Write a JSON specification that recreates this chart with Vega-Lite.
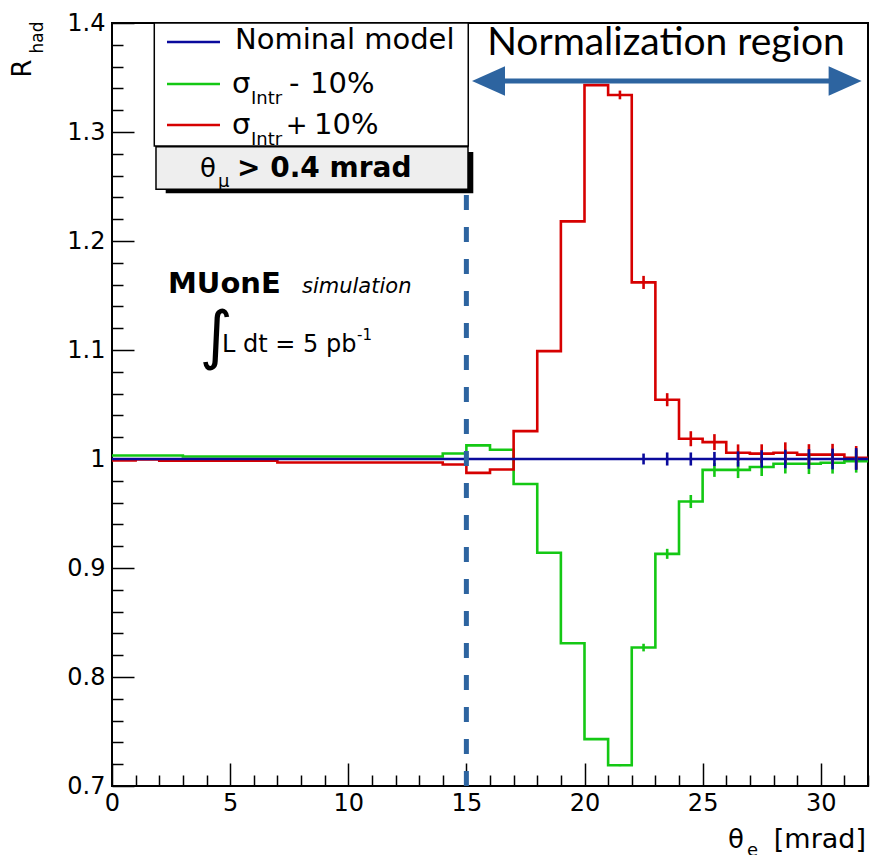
{
"$schema": "https://vega.github.io/schema/vega-lite/v6.json",
"width": 756, "height": 763,
"autosize": {"type": "none"},
"padding": {"left": 112, "top": 23, "right": 3, "bottom": 69},
"background": "white",
"datasets": {
"one": [{}],
"hist": [
{"s":"minus","x0":0,"x1":1,"mid":0.5,"r":1.0032,"e":0},
{"s":"minus","x0":1,"x1":2,"mid":1.5,"r":1.0032,"e":0},
{"s":"minus","x0":2,"x1":3,"mid":2.5,"r":1.0032,"e":0},
{"s":"minus","x0":3,"x1":4,"mid":3.5,"r":1.0023,"e":0},
{"s":"minus","x0":4,"x1":5,"mid":4.5,"r":1.0023,"e":0},
{"s":"minus","x0":5,"x1":6,"mid":5.5,"r":1.0023,"e":0},
{"s":"minus","x0":6,"x1":7,"mid":6.5,"r":1.0023,"e":0},
{"s":"minus","x0":7,"x1":8,"mid":7.5,"r":1.0023,"e":0},
{"s":"minus","x0":8,"x1":9,"mid":8.5,"r":1.0023,"e":0},
{"s":"minus","x0":9,"x1":10,"mid":9.5,"r":1.0023,"e":0},
{"s":"minus","x0":10,"x1":11,"mid":10.5,"r":1.0023,"e":0},
{"s":"minus","x0":11,"x1":12,"mid":11.5,"r":1.0023,"e":0},
{"s":"minus","x0":12,"x1":13,"mid":12.5,"r":1.0023,"e":0},
{"s":"minus","x0":13,"x1":14,"mid":13.5,"r":1.0023,"e":0},
{"s":"minus","x0":14,"x1":15,"mid":14.5,"r":1.005,"e":0},
{"s":"minus","x0":15,"x1":16,"mid":15.5,"r":1.0125,"e":0},
{"s":"minus","x0":16,"x1":17,"mid":16.5,"r":1.0085,"e":0},
{"s":"minus","x0":17,"x1":18,"mid":17.5,"r":0.977,"e":0},
{"s":"minus","x0":18,"x1":19,"mid":18.5,"r":0.914,"e":0},
{"s":"minus","x0":19,"x1":20,"mid":19.5,"r":0.831,"e":0},
{"s":"minus","x0":20,"x1":21,"mid":20.5,"r":0.743,"e":0},
{"s":"minus","x0":21,"x1":22,"mid":21.5,"r":0.719,"e":0.0008},
{"s":"minus","x0":22,"x1":23,"mid":22.5,"r":0.827,"e":0.0035},
{"s":"minus","x0":23,"x1":24,"mid":23.5,"r":0.913,"e":0.0046},
{"s":"minus","x0":24,"x1":25,"mid":24.5,"r":0.961,"e":0.006},
{"s":"minus","x0":25,"x1":26,"mid":25.5,"r":0.990,"e":0.0064},
{"s":"minus","x0":26,"x1":27,"mid":26.5,"r":0.990,"e":0.0075},
{"s":"minus","x0":27,"x1":28,"mid":27.5,"r":0.9926,"e":0.0082},
{"s":"minus","x0":28,"x1":29,"mid":28.5,"r":0.9957,"e":0.009},
{"s":"minus","x0":29,"x1":30,"mid":29.5,"r":0.9957,"e":0.0095},
{"s":"minus","x0":30,"x1":31,"mid":30.5,"r":0.9966,"e":0.01},
{"s":"minus","x0":31,"x1":32,"mid":31.5,"r":0.998,"e":0.0105},
{"s":"plus","x0":0,"x1":1,"mid":0.5,"r":0.9986,"e":0},
{"s":"plus","x0":1,"x1":2,"mid":1.5,"r":0.9995,"e":0},
{"s":"plus","x0":2,"x1":3,"mid":2.5,"r":0.9984,"e":0},
{"s":"plus","x0":3,"x1":4,"mid":3.5,"r":0.9984,"e":0},
{"s":"plus","x0":4,"x1":5,"mid":4.5,"r":0.9984,"e":0},
{"s":"plus","x0":5,"x1":6,"mid":5.5,"r":0.9984,"e":0},
{"s":"plus","x0":6,"x1":7,"mid":6.5,"r":0.9984,"e":0},
{"s":"plus","x0":7,"x1":8,"mid":7.5,"r":0.9968,"e":0},
{"s":"plus","x0":8,"x1":9,"mid":8.5,"r":0.9968,"e":0},
{"s":"plus","x0":9,"x1":10,"mid":9.5,"r":0.9968,"e":0},
{"s":"plus","x0":10,"x1":11,"mid":10.5,"r":0.9968,"e":0},
{"s":"plus","x0":11,"x1":12,"mid":11.5,"r":0.9968,"e":0},
{"s":"plus","x0":12,"x1":13,"mid":12.5,"r":0.9968,"e":0},
{"s":"plus","x0":13,"x1":14,"mid":13.5,"r":0.9968,"e":0},
{"s":"plus","x0":14,"x1":15,"mid":14.5,"r":0.995,"e":0},
{"s":"plus","x0":15,"x1":16,"mid":15.5,"r":0.9873,"e":0},
{"s":"plus","x0":16,"x1":17,"mid":16.5,"r":0.9904,"e":0},
{"s":"plus","x0":17,"x1":18,"mid":17.5,"r":1.0256,"e":0},
{"s":"plus","x0":18,"x1":19,"mid":18.5,"r":1.099,"e":0},
{"s":"plus","x0":19,"x1":20,"mid":19.5,"r":1.218,"e":0},
{"s":"plus","x0":20,"x1":21,"mid":20.5,"r":1.343,"e":0.0006},
{"s":"plus","x0":21,"x1":22,"mid":21.5,"r":1.334,"e":0.004},
{"s":"plus","x0":22,"x1":23,"mid":22.5,"r":1.162,"e":0.006},
{"s":"plus","x0":23,"x1":24,"mid":23.5,"r":1.0544,"e":0.006},
{"s":"plus","x0":24,"x1":25,"mid":24.5,"r":1.0186,"e":0.0069},
{"s":"plus","x0":25,"x1":26,"mid":25.5,"r":1.0155,"e":0.0073},
{"s":"plus","x0":26,"x1":27,"mid":26.5,"r":1.0058,"e":0.0076},
{"s":"plus","x0":27,"x1":28,"mid":27.5,"r":1.0049,"e":0.0086},
{"s":"plus","x0":28,"x1":29,"mid":28.5,"r":1.0058,"e":0.0095},
{"s":"plus","x0":29,"x1":30,"mid":29.5,"r":1.004,"e":0.0096},
{"s":"plus","x0":30,"x1":31,"mid":30.5,"r":1.004,"e":0.0099},
{"s":"plus","x0":31,"x1":32,"mid":31.5,"r":1.0012,"e":0.0107},
{"s":"nom","x0":0,"x1":1,"mid":0.5,"r":1,"e":0},
{"s":"nom","x0":1,"x1":2,"mid":1.5,"r":1,"e":0},
{"s":"nom","x0":2,"x1":3,"mid":2.5,"r":1,"e":0},
{"s":"nom","x0":3,"x1":4,"mid":3.5,"r":1,"e":0},
{"s":"nom","x0":4,"x1":5,"mid":4.5,"r":1,"e":0},
{"s":"nom","x0":5,"x1":6,"mid":5.5,"r":1,"e":0},
{"s":"nom","x0":6,"x1":7,"mid":6.5,"r":1,"e":0},
{"s":"nom","x0":7,"x1":8,"mid":7.5,"r":1,"e":0},
{"s":"nom","x0":8,"x1":9,"mid":8.5,"r":1,"e":0},
{"s":"nom","x0":9,"x1":10,"mid":9.5,"r":1,"e":0},
{"s":"nom","x0":10,"x1":11,"mid":10.5,"r":1,"e":0},
{"s":"nom","x0":11,"x1":12,"mid":11.5,"r":1,"e":0},
{"s":"nom","x0":12,"x1":13,"mid":12.5,"r":1,"e":0},
{"s":"nom","x0":13,"x1":14,"mid":13.5,"r":1,"e":0},
{"s":"nom","x0":14,"x1":15,"mid":14.5,"r":1,"e":0},
{"s":"nom","x0":15,"x1":16,"mid":15.5,"r":1,"e":0},
{"s":"nom","x0":16,"x1":17,"mid":16.5,"r":1,"e":0},
{"s":"nom","x0":17,"x1":18,"mid":17.5,"r":1,"e":0},
{"s":"nom","x0":18,"x1":19,"mid":18.5,"r":1,"e":0},
{"s":"nom","x0":19,"x1":20,"mid":19.5,"r":1,"e":0},
{"s":"nom","x0":20,"x1":21,"mid":20.5,"r":1,"e":0},
{"s":"nom","x0":21,"x1":22,"mid":21.5,"r":1,"e":0.0009},
{"s":"nom","x0":22,"x1":23,"mid":22.5,"r":1,"e":0.005},
{"s":"nom","x0":23,"x1":24,"mid":23.5,"r":1,"e":0.006},
{"s":"nom","x0":24,"x1":25,"mid":24.5,"r":1,"e":0.006},
{"s":"nom","x0":25,"x1":26,"mid":25.5,"r":1,"e":0.0065},
{"s":"nom","x0":26,"x1":27,"mid":26.5,"r":1,"e":0.007},
{"s":"nom","x0":27,"x1":28,"mid":27.5,"r":1,"e":0.008},
{"s":"nom","x0":28,"x1":29,"mid":28.5,"r":1,"e":0.0085},
{"s":"nom","x0":29,"x1":30,"mid":29.5,"r":1,"e":0.009},
{"s":"nom","x0":30,"x1":31,"mid":30.5,"r":1,"e":0.0095},
{"s":"nom","x0":31,"x1":32,"mid":31.5,"r":1,"e":0.01}
]
},
"layer": [
{"data": {"name": "hist"},
 "transform": [{"fold": ["x0", "x1"], "as": ["k", "xv"]}],
 "mark": {"type": "line", "strokeWidth": 2.6, "strokeCap": "butt", "strokeJoin": "miter"},
 "encoding": {
  "x": {"field": "xv", "type": "quantitative", "scale": {"domain": [0, 32], "nice": false, "zero": false},
        "axis": {"values": [0,1,2,3,4,5,6,7,8,9,10,11,12,13,14,15,16,17,18,19,20,21,22,23,24,25,26,27,28,29,30,31,32],
                 "tickCount": 200,
                 "tickSize": {"condition": {"test": "datum.value % 5 === 0", "value": -23}, "value": -11},
                 "labelExpr": "datum.value % 5 === 0 ? format(datum.value, 'd') : ''",
                 "labelPadding": 28, "labelOverlap": false, "labelFlush": false, "labelBound": false, "title": null}},
  "y": {"field": "r", "type": "quantitative", "scale": {"domain": [0.7, 1.4], "nice": false, "zero": false},
        "axis": {"values": [0.7,0.72,0.74,0.76,0.78,0.8,0.82,0.84,0.86,0.88,0.9,0.92,0.94,0.96,0.98,1,1.02,1.04,1.06,1.08,1.1,1.12,1.14,1.16,1.18,1.2,1.22,1.24,1.26,1.28,1.3,1.32,1.34,1.36,1.38,1.4],
                 "tickCount": 200,
                 "tickSize": {"condition": {"test": "abs(datum.value*10 - round(datum.value*10)) < 0.001", "value": -22}, "value": -11},
                 "labelExpr": "abs(datum.value*10 - round(datum.value*10)) < 0.001 ? format(datum.value, '~g') : ''",
                 "labelPadding": 29, "labelOverlap": false, "labelFlush": false, "labelBound": false, "title": null}},
  "color": {"field": "s", "type": "nominal", "scale": {"domain": ["minus", "plus", "nom"], "range": ["#14c814", "#d60000", "#0a0a9c"]}, "legend": null},
  "order": [{"field": "x0", "type": "quantitative"}, {"field": "k", "type": "nominal"}]
 }},
{"data": {"name": "hist"},
 "transform": [{"filter": "datum.e > 0"}],
 "mark": {"type": "errorbar", "thickness": 2.6},
 "encoding": {
  "x": {"field": "mid", "type": "quantitative"},
  "y": {"field": "r", "type": "quantitative"},
  "yError": {"field": "e"},
  "color": {"field": "s", "type": "nominal", "legend": null}
 }},
{"data": {"name": "one"},
 "mark": {"type": "rule", "color": "#2d64a0", "strokeWidth": 5, "strokeDash": [15, 17]},
 "encoding": {"x": {"datum": 15, "type": "quantitative"}, "y": {"datum": 0.7, "type": "quantitative"}, "y2": {"datum": 1.4}}},
{"data": {"name": "one"},
 "mark": {"type": "rect", "fill": "white", "stroke": "black", "strokeWidth": 1.5},
 "encoding": {"x": {"datum": 1.79, "type": "quantitative"}, "x2": {"datum": 15.08}, "y": {"datum": 1.4, "type": "quantitative"}, "y2": {"datum": 1.2872}}},
{"data": {"name": "one"},
 "mark": {"type": "rule", "color": "#0a0a9c", "strokeWidth": 2.6},
 "encoding": {"x": {"datum": 2.328, "type": "quantitative"}, "x2": {"datum": 4.571}, "y": {"datum": 1.38257, "type": "quantitative"}}},
{"data": {"name": "one"},
 "mark": {"type": "rule", "color": "#14c814", "strokeWidth": 2.6},
 "encoding": {"x": {"datum": 2.328, "type": "quantitative"}, "x2": {"datum": 4.571}, "y": {"datum": 1.34404, "type": "quantitative"}}},
{"data": {"name": "one"},
 "mark": {"type": "rule", "color": "#d60000", "strokeWidth": 2.6},
 "encoding": {"x": {"datum": 2.328, "type": "quantitative"}, "x2": {"datum": 4.571}, "y": {"datum": 1.30642, "type": "quantitative"}}},
{"data": {"name": "one"},
 "mark": {"type": "text", "text": "Nominal model", "fontSize": 29, "align": "left", "baseline": "alphabetic"},
 "encoding": {"x": {"datum": 5.206, "type": "quantitative"}, "y": {"datum": 1.37615, "type": "quantitative"}}},
{"data": {"name": "one"},
 "mark": {"type": "text", "text": "σ", "fontSize": 29, "align": "left", "baseline": "alphabetic"},
 "encoding": {"x": {"datum": 5.079, "type": "quantitative"}, "y": {"datum": 1.33578, "type": "quantitative"}}},
{"data": {"name": "one"},
 "mark": {"type": "text", "text": "Intr", "fontSize": 18, "align": "left", "baseline": "alphabetic"},
 "encoding": {"x": {"datum": 5.884, "type": "quantitative"}, "y": {"datum": 1.32569, "type": "quantitative"}}},
{"data": {"name": "one"},
 "mark": {"type": "text", "text": "-", "fontSize": 29, "align": "left", "baseline": "alphabetic"},
 "encoding": {"x": {"datum": 7.492, "type": "quantitative"}, "y": {"datum": 1.33578, "type": "quantitative"}}},
{"data": {"name": "one"},
 "mark": {"type": "text", "text": "10%", "fontSize": 29, "align": "left", "baseline": "alphabetic"},
 "encoding": {"x": {"datum": 8.38, "type": "quantitative"}, "y": {"datum": 1.33578, "type": "quantitative"}}},
{"data": {"name": "one"},
 "mark": {"type": "text", "text": "σ", "fontSize": 29, "align": "left", "baseline": "alphabetic"},
 "encoding": {"x": {"datum": 5.079, "type": "quantitative"}, "y": {"datum": 1.29817, "type": "quantitative"}}},
{"data": {"name": "one"},
 "mark": {"type": "text", "text": "Intr", "fontSize": 18, "align": "left", "baseline": "alphabetic"},
 "encoding": {"x": {"datum": 5.884, "type": "quantitative"}, "y": {"datum": 1.28807, "type": "quantitative"}}},
{"data": {"name": "one"},
 "mark": {"type": "text", "text": "+", "fontSize": 26, "align": "left", "baseline": "alphabetic"},
 "encoding": {"x": {"datum": 7.35, "type": "quantitative"}, "y": {"datum": 1.29817, "type": "quantitative"}}},
{"data": {"name": "one"},
 "mark": {"type": "text", "text": "10%", "fontSize": 29, "align": "left", "baseline": "alphabetic"},
 "encoding": {"x": {"datum": 8.55, "type": "quantitative"}, "y": {"datum": 1.29817, "type": "quantitative"}}},
{"data": {"name": "one"},
 "mark": {"type": "rect", "fill": "black"},
 "encoding": {"x": {"datum": 2.273, "type": "quantitative"}, "x2": {"datum": 15.293}, "y": {"datum": 1.28165, "type": "quantitative"}, "y2": {"datum": 1.24376}}},
{"data": {"name": "one"},
 "mark": {"type": "rect", "fill": "#eeeeee", "stroke": "black", "strokeWidth": 1.5},
 "encoding": {"x": {"datum": 1.862, "type": "quantitative"}, "x2": {"datum": 15.069}, "y": {"datum": 1.28651, "type": "quantitative"}, "y2": {"datum": 1.24743}}},
{"data": {"name": "one"},
 "mark": {"type": "text", "text": "θ", "fontSize": 26, "align": "left", "baseline": "alphabetic"},
 "encoding": {"x": {"datum": 3.725, "type": "quantitative"}, "y": {"datum": 1.25872, "type": "quantitative"}}},
{"data": {"name": "one"},
 "mark": {"type": "text", "text": "μ", "fontSize": 18, "align": "left", "baseline": "alphabetic"},
 "encoding": {"x": {"datum": 4.487, "type": "quantitative"}, "y": {"datum": 1.24954, "type": "quantitative"}}},
{"data": {"name": "one"},
 "mark": {"type": "text", "text": "> 0.4 mrad", "fontSize": 28, "fontWeight": "bold", "align": "left", "baseline": "alphabetic"},
 "encoding": {"x": {"datum": 5.291, "type": "quantitative"}, "y": {"datum": 1.25872, "type": "quantitative"}}},
{"data": {"name": "one"},
 "mark": {"type": "text", "text": "MUonE", "fontSize": 29, "fontWeight": "bold", "align": "left", "baseline": "alphabetic"},
 "encoding": {"x": {"datum": 2.37, "type": "quantitative"}, "y": {"datum": 1.15229, "type": "quantitative"}}},
{"data": {"name": "one"},
 "mark": {"type": "text", "text": "simulation", "fontSize": 21, "fontStyle": "italic", "align": "left", "baseline": "alphabetic"},
 "encoding": {"x": {"datum": 8.042, "type": "quantitative"}, "y": {"datum": 1.15229, "type": "quantitative"}}},
{"data": {"name": "one"},
 "mark": {"type": "text", "text": "∫", "fontSize": 64, "align": "left", "baseline": "alphabetic"},
 "encoding": {"x": {"datum": 3.7, "type": "quantitative"}, "y": {"datum": 1.0935, "type": "quantitative"}}},
{"data": {"name": "one"},
 "mark": {"type": "text", "text": "L dt = 5 pb", "fontSize": 24, "align": "left", "baseline": "alphabetic"},
 "encoding": {"x": {"datum": 4.656, "type": "quantitative"}, "y": {"datum": 1.09817, "type": "quantitative"}}},
{"data": {"name": "one"},
 "mark": {"type": "text", "text": "-1", "fontSize": 15, "align": "left", "baseline": "alphabetic"},
 "encoding": {"x": {"datum": 10.37, "type": "quantitative"}, "y": {"datum": 1.10917, "type": "quantitative"}}},
{"data": {"name": "one"},
 "mark": {"type": "text", "text": "Normalization region", "font": "Lato", "fontSize": 39, "align": "center", "baseline": "alphabetic"},
 "encoding": {"x": {"datum": 23.45, "type": "quantitative"}, "y": {"datum": 1.37064, "type": "quantitative"}}},
{"data": {"name": "one"},
 "mark": {"type": "rule", "color": "#2d64a0", "strokeWidth": 5},
 "encoding": {"x": {"datum": 16.0, "type": "quantitative"}, "x2": {"datum": 31.0}, "y": {"datum": 1.3468, "type": "quantitative"}}},
{"data": {"name": "one"},
 "mark": {"type": "point", "shape": "M-1,0L1,-0.9L1,0.9Z", "filled": true, "size": 1089, "color": "#2d64a0", "opacity": 1},
 "encoding": {"x": {"datum": 15.937, "type": "quantitative"}, "y": {"datum": 1.3468, "type": "quantitative"}}},
{"data": {"name": "one"},
 "mark": {"type": "point", "shape": "M1,0L-1,-0.9L-1,0.9Z", "filled": true, "size": 1089, "color": "#2d64a0", "opacity": 1},
 "encoding": {"x": {"datum": 31.031, "type": "quantitative"}, "y": {"datum": 1.3468, "type": "quantitative"}}},
{"data": {"name": "one"},
 "mark": {"type": "text", "text": "θ", "fontSize": 26, "align": "left", "baseline": "alphabetic"},
 "encoding": {"x": {"datum": 26.074, "type": "quantitative"}, "y": {"datum": 0.6431, "type": "quantitative"}}},
{"data": {"name": "one"},
 "mark": {"type": "text", "text": "e", "fontSize": 18, "align": "left", "baseline": "alphabetic"},
 "encoding": {"x": {"datum": 26.878, "type": "quantitative"}, "y": {"datum": 0.6358, "type": "quantitative"}}},
{"data": {"name": "one"},
 "mark": {"type": "text", "text": "[mrad]", "fontSize": 27, "align": "right", "baseline": "alphabetic"},
 "encoding": {"x": {"datum": 31.915, "type": "quantitative"}, "y": {"datum": 0.6431, "type": "quantitative"}}},
{"data": {"name": "one"},
 "mark": {"type": "text", "text": "R", "fontSize": 26, "angle": 270, "align": "center", "baseline": "alphabetic"},
 "encoding": {"x": {"datum": -3.441, "type": "quantitative"}, "y": {"datum": 1.35826, "type": "quantitative"}}},
{"data": {"name": "one"},
 "mark": {"type": "text", "text": "had", "fontSize": 17, "angle": 270, "align": "center", "baseline": "alphabetic"},
 "encoding": {"x": {"datum": -2.908, "type": "quantitative"}, "y": {"datum": 1.3867, "type": "quantitative"}}}
],
"config": {
 "view": {"stroke": "black", "strokeWidth": 2},
 "font": "DejaVu Sans",
 "axis": {"labelFont": "DejaVu Sans", "labelFontSize": 24, "labelColor": "black", "tickColor": "black", "tickWidth": 1.5, "domain": false, "grid": false, "labelOverlap": false, "labelBound": false, "labelFlush": false},
 "text": {"font": "DejaVu Sans", "fill": "black"}
}
}
